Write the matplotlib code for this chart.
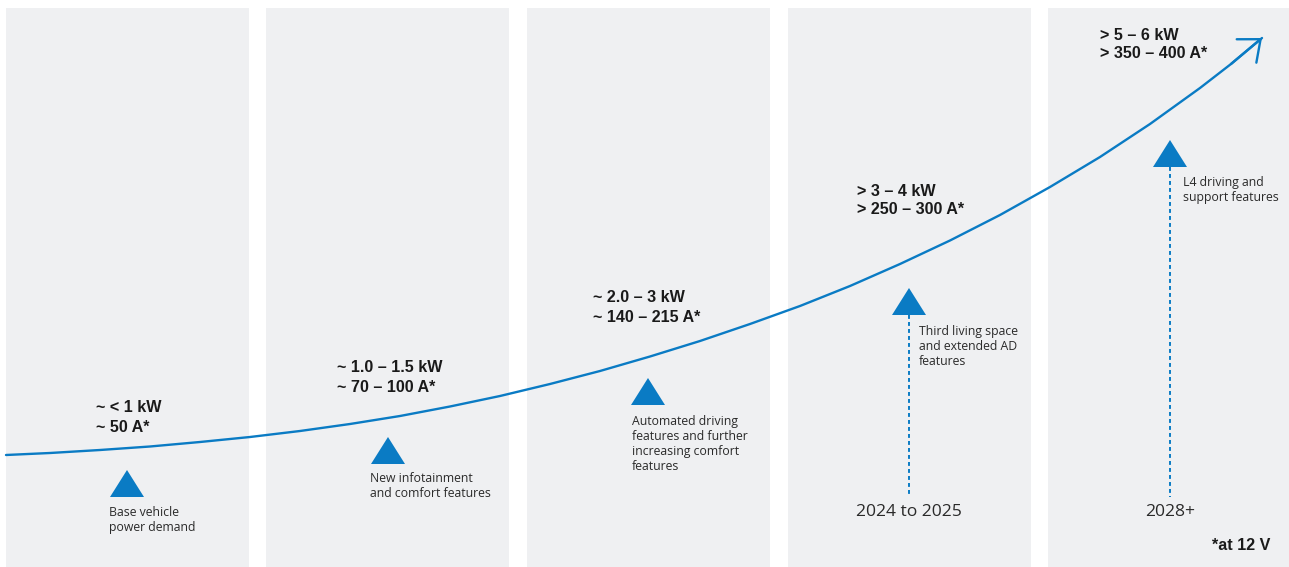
import matplotlib
matplotlib.use("Agg")
import matplotlib.pyplot as plt
from matplotlib.patches import Rectangle, Polygon

# ---------------- data ----------------
panel_left = [6, 266, 527, 788, 1048]
panel_right = [249, 509, 770, 1031, 1289]

curve_x = [6, 50, 100, 150, 200, 250, 300, 350, 400, 450, 500, 550, 600, 650, 700,
           750, 800, 850, 900, 950, 1000, 1050, 1100, 1150, 1200, 1231, 1262]
curve_y = [455, 453, 450, 446.5, 442, 437, 431, 424, 416, 406.5, 396, 384, 371, 356.5, 341,
           324, 306, 286, 264, 240.5, 215, 187, 157, 124, 88, 64, 38]

power_labels = ["~ < 1 kW", "~ 1.0 – 1.5 kW", "~ 2.0 – 3 kW", "> 3 – 4 kW", "> 5 – 6 kW"]
current_labels = ["~ 50 A*", "~ 70 – 100 A*", "~ 140 – 215 A*", "> 250 – 300 A*", "> 350 – 400 A*"]
label_x = [96, 337, 593, 857, 1100]
label_y = [408, 368, 298, 191, 35]

descriptions = [
    "Base vehicle\npower demand",
    "New infotainment\nand comfort features",
    "Automated driving\nfeatures and further\nincreasing comfort\nfeatures",
    "Third living space\nand extended AD\nfeatures",
    "L4 driving and\nsupport features",
]
desc_x = [109, 370, 632, 919, 1183]
desc_y = [513, 479, 422, 332, 183]

tri_x = [127, 388, 648, 909, 1170]
tri_top = [470, 437, 378, 288, 140]

years = ["2024 to 2025", "2028+"]
year_stage = [3, 4]
year_y = 512
dotted_bottom = 497

footnote = "*at 12 V"

# ---------------- style ----------------
BLUE = "#0A7BC4"
GREY = "#EFF0F2"
TXT = "#1A1A1A"
DESC = "#2A2A2A"
TRI_W, TRI_H = 34, 27

fig = plt.figure(figsize=(12.89, 5.67), dpi=100)
ax = fig.add_axes([0, 0, 1, 1])
ax.set_xlim(0, 1289)
ax.set_ylim(567, 0)
ax.axis("off")

for l, r in zip(panel_left, panel_right):
    ax.add_patch(Rectangle((l, 8), r - l, 567 - 8, facecolor=GREY, edgecolor="none", zorder=0))

# curve + arrow head
ax.plot(curve_x, curve_y, color=BLUE, lw=1.7, solid_capstyle="round",
        solid_joinstyle="round", zorder=3)
ax.annotate("", xy=(curve_x[-1], curve_y[-1]), xytext=(curve_x[-2], curve_y[-2]),
            arrowprops=dict(arrowstyle="->,head_length=0.6,head_width=0.5", color=BLUE,
                            lw=1.7, mutation_scale=22, shrinkA=0, shrinkB=0), zorder=3)

# triangles
for x, t in zip(tri_x, tri_top):
    ax.add_patch(Polygon([(x - TRI_W / 2, t + TRI_H), (x + TRI_W / 2, t + TRI_H), (x, t)],
                         closed=True, facecolor=BLUE, edgecolor="none", zorder=4))

# bold labels
for p, c, x, y in zip(power_labels, current_labels, label_x, label_y):
    ax.text(x, y, p, fontsize=11.6, fontweight="bold", family="Liberation Sans", color=TXT,
            va="center", ha="left")
    ax.text(x, y + 19, c, fontsize=11.6, fontweight="bold", family="Liberation Sans", color=TXT,
            va="center", ha="left")

# descriptions
for d, x, y in zip(descriptions, desc_x, desc_y):
    ax.text(x, y - 7, d, fontsize=8.8, family="Open Sans", color=DESC, va="top", ha="left",
            linespacing=1.2)

# dotted lines + years
for yr, s in zip(years, year_stage):
    ax.plot([tri_x[s], tri_x[s]], [tri_top[s] + TRI_H, dotted_bottom], color=BLUE, lw=1.4,
            linestyle=(0, (2, 1.6)), zorder=2)
    ax.text(tri_x[s], year_y, yr, fontsize=12.6, family="Open Sans", color=DESC,
            ha="center", va="center")

ax.text(1270, 546, footnote, fontsize=11.6, fontweight="bold", family="Liberation Sans",
        color=TXT, ha="right", va="center")

fig.savefig("out.png", dpi=100)
